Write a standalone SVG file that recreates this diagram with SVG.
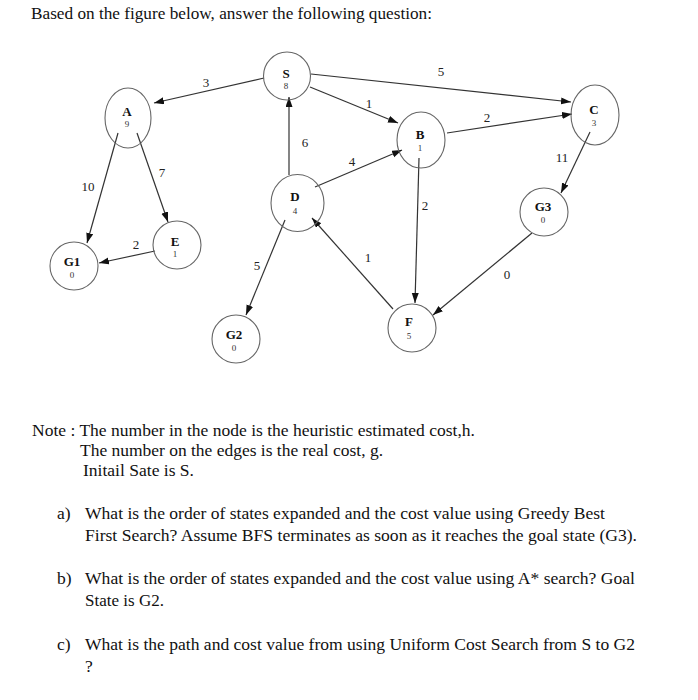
<svg xmlns="http://www.w3.org/2000/svg" width="698" height="700" viewBox="0 0 698 700">
<style>
.txt{font-family:"Liberation Serif","Times New Roman",serif;fill:#111;font-size:17.5px}
.node ellipse{fill:none;stroke:#666;stroke-width:1.1}
.lbl{font-family:"Liberation Serif","Times New Roman",serif;font-weight:bold;font-size:13px;fill:#111;text-anchor:middle}
.h{font-family:"Liberation Serif","Times New Roman",serif;font-size:9px;fill:#333;text-anchor:middle}
.edges line{stroke:#333;stroke-width:1.2;marker-end:url(#ah)}
.el{font-family:"Liberation Serif","Times New Roman",serif;font-size:13px;fill:#222;text-anchor:middle}
</style>
<defs>
<marker id="ah" markerUnits="userSpaceOnUse" markerWidth="11" markerHeight="8" refX="10" refY="3.5" orient="auto">
<path d="M0,0 L10,3.5 L0,7 z" fill="#111"/>
</marker>
</defs>
<rect width="698" height="700" fill="#fff"/>
<text class="txt" x="31" y="19" font-size="18" textLength="401" lengthAdjust="spacingAndGlyphs">Based on the figure below, answer the following question:</text>

<g class="edges">
<line x1="264" y1="78" x2="154" y2="103"/>
<line x1="311" y1="74" x2="571" y2="102"/>
<line x1="310" y1="87" x2="398" y2="123"/>
<line x1="447" y1="133" x2="572" y2="114"/>
<line x1="315" y1="187" x2="402" y2="150"/>
<line x1="590" y1="132" x2="561" y2="193"/>
<line x1="289" y1="175" x2="289" y2="97"/>
<line x1="118" y1="133" x2="87" y2="243"/>
<line x1="137" y1="133" x2="168" y2="222"/>
<line x1="155" y1="251" x2="99" y2="263"/>
<line x1="285" y1="220" x2="246" y2="315"/>
<line x1="419" y1="158" x2="415" y2="303"/>
<line x1="393" y1="309" x2="312" y2="218"/>
<line x1="532" y1="233" x2="433" y2="315"/>
<text class="el" x="206" y="87">3</text>
<text class="el" x="441" y="76">5</text>
<text class="el" x="369" y="108">1</text>
<text class="el" x="487" y="122">2</text>
<text class="el" x="352" y="166">4</text>
<text class="el" x="562" y="162">11</text>
<text class="el" x="305" y="147">6</text>
<text class="el" x="88" y="191">10</text>
<text class="el" x="162" y="177">7</text>
<text class="el" x="136" y="249">2</text>
<text class="el" x="257" y="269.5">5</text>
<text class="el" x="425" y="210">2</text>
<text class="el" x="368" y="261.5">1</text>
<text class="el" x="507" y="278.5">0</text>
</g>

<g id="node-S" class="node"><ellipse cx="287" cy="76" rx="23.5" ry="24"/><text class="lbl" x="286" y="78">S</text><text class="h" x="286" y="89">8</text></g>
<g id="node-A" class="node"><ellipse cx="128" cy="118" rx="23" ry="30"/><text class="lbl" x="127" y="116">A</text><text class="h" x="127" y="127">9</text></g>
<g id="node-B" class="node"><ellipse cx="421" cy="140" rx="24" ry="28"/><text class="lbl" x="420" y="139">B</text><text class="h" x="420" y="151">1</text></g>
<g id="node-C" class="node"><ellipse cx="595" cy="115" rx="24" ry="30"/><text class="lbl" x="594" y="114">C</text><text class="h" x="594" y="126">3</text></g>
<g id="node-D" class="node"><ellipse cx="297.5" cy="203" rx="26.5" ry="28.5"/><text class="lbl" x="295" y="201">D</text><text class="h" x="295" y="214">4</text></g>
<g id="node-E" class="node"><ellipse cx="177" cy="245" rx="24" ry="24"/><text class="lbl" x="175" y="246">E</text><text class="h" x="175" y="257">1</text></g>
<g id="node-G1" class="node"><ellipse cx="74" cy="266" rx="24" ry="24"/><text class="lbl" x="72" y="266">G1</text><text class="h" x="72" y="278">0</text></g>
<g id="node-G2" class="node"><ellipse cx="236" cy="339" rx="24" ry="24"/><text class="lbl" x="234" y="339">G2</text><text class="h" x="234" y="351">0</text></g>
<g id="node-G3" class="node"><ellipse cx="544" cy="212" rx="24" ry="24"/><text class="lbl" x="543" y="211">G3</text><text class="h" x="543" y="223">0</text></g>
<g id="node-F" class="node"><ellipse cx="412" cy="328" rx="24" ry="24"/><text class="lbl" x="409" y="326">F</text><text class="h" x="409" y="339">5</text></g>

<text class="txt" x="32" y="436" textLength="443" lengthAdjust="spacingAndGlyphs">Note : The number in the node is the heuristic estimated cost,h.</text>
<text class="txt" x="80" y="456" textLength="303" lengthAdjust="spacingAndGlyphs">The number on the edges is the real cost, g.</text>
<text class="txt" x="83" y="476" textLength="111" lengthAdjust="spacingAndGlyphs">Initail Sate is S.</text>

<text class="txt" x="57" y="519">a)</text>
<text class="txt" x="85" y="519" textLength="520" lengthAdjust="spacingAndGlyphs">What is the order of states expanded and the cost value using Greedy Best</text>
<text class="txt" x="85" y="541" textLength="552" lengthAdjust="spacingAndGlyphs">First Search? Assume BFS terminates as soon as it reaches the goal state (G3).</text>
<text class="txt" x="57" y="584">b)</text>
<text class="txt" x="85" y="584" textLength="550" lengthAdjust="spacingAndGlyphs">What is the order of states expanded and the cost value using A* search? Goal</text>
<text class="txt" x="85" y="606" textLength="79" lengthAdjust="spacingAndGlyphs">State is G2.</text>
<text class="txt" x="57" y="650">c)</text>
<text class="txt" x="85" y="650" textLength="550" lengthAdjust="spacingAndGlyphs">What is the path and cost value from using Uniform Cost Search from S to G2</text>
<text class="txt" x="85" y="672">?</text>
</svg>
